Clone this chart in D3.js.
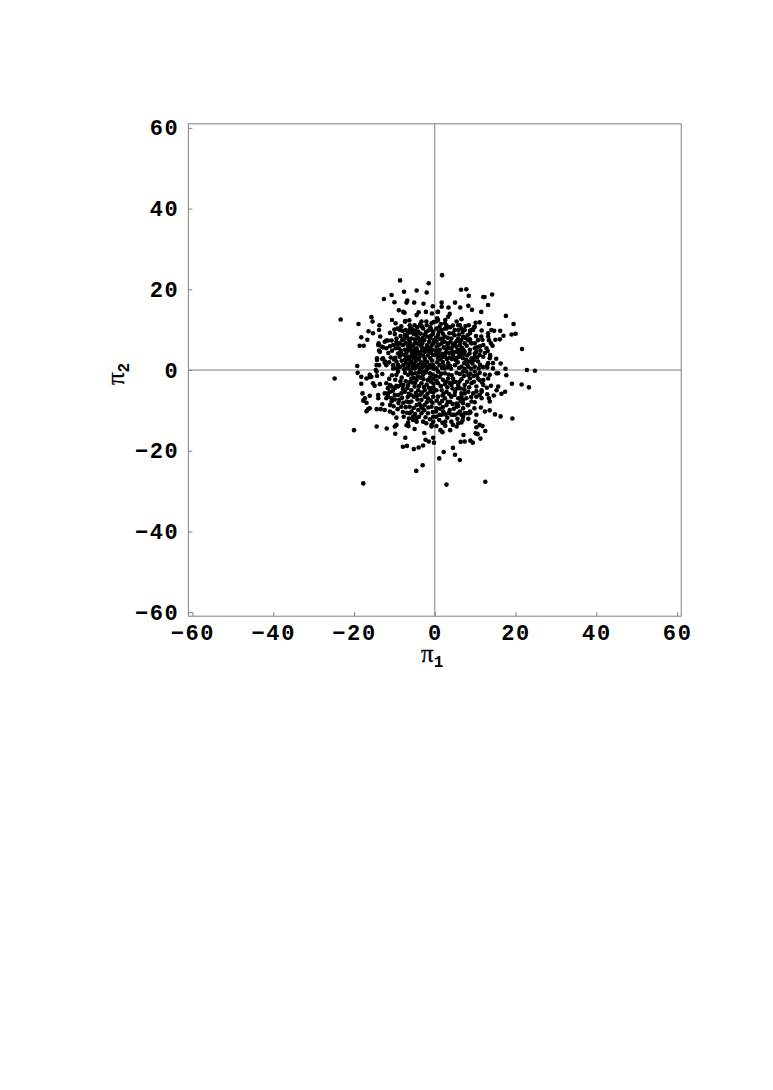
<!DOCTYPE html>
<html>
<head>
<meta charset="utf-8">
<script src="https://cdn.jsdelivr.net/npm/d3@7"></script>
<style>
  html, body { margin: 0; padding: 0; background: #fff; }
  svg { display: block; }
  .tick text { font-family: "Liberation Mono", monospace; font-weight: bold; font-size: 22px; letter-spacing: 1.6px; fill: #000; }
  .label { font-family: "Liberation Serif", serif; font-size: 25px; fill: #000; stroke: #000; stroke-width: 0.3px; }
  .label .sub { font-family: "Liberation Mono", monospace; font-weight: bold; font-size: 16px; stroke: none; }
</style>
</head>
<body>
<svg id="chart"></svg>
<script>
const tickLabels = [-60, -40, -20, 0, 20, 40, 60]

// [pi1, pi2], one list per quadrant
const upperLeft = [
  [-8.6,22.2],[-1.5,21.5],[-7.6,19.4],[-4.5,19.7],[-2.0,19.2],[-10.7,18.6],[-12.6,17.6],[-10.0,16.8],[-7.0,16.7],[-6.8,17.2],
  [-5.1,16.7],[-2.8,16.4],[-0.5,15.8],[-8.9,14.8],[-7.8,14.4],[-7.5,14.2],[-4.0,14.3],[-4.5,13.6],[-2.2,14.4],[-0.7,14.0],
  [-23.3,12.5],[-15.7,13.1],[-15.4,12.0],[-18.9,11.4],[-13.7,11.1],[-10.6,12.4],[-7.3,12.1],[-6.3,12.3],[-9.7,11.6],[-13.8,9.9],
  [-16.4,9.6],[-15.3,9.1],[-13.5,8.3],[-18.2,8.1],[-16.7,7.5],[-18.6,6.0],[-17.6,6.0],[-13.9,6.6],[-11.1,9.2],[-9.2,10.3],
  [-8.0,9.7],[-9.9,8.9],[-12.0,7.3],[-10.7,7.3],[-9.5,7.0],[-8.1,7.4],[-8.0,6.2],[-12.8,5.6],[-12.0,5.4],[-11.1,5.9],
  [-13.8,4.8],[-8.7,4.1],[-14.3,2.9],[-14.3,2.5],[-13.0,2.7],[-12.3,2.1],[-13.8,1.2],[-19.2,1.0],[-14.6,0.0],
  [-8.7,9.9],[-7.4,12.0],[-6.2,11.1],[-6.2,9.9],[-5.0,11.1],[-3.3,12.0],[-2.1,12.0],[-0.8,11.6],[-0.4,9.5],[-2.9,10.3],
  [-4.1,9.5],[-4.5,8.7],[-5.8,7.8],[-2.5,8.7],[-7.4,8.7],[-9.5,7.8],[-11.6,7.3],[-12.4,7.0],[-14.0,6.2],[-13.2,5.8],
  [-13.6,4.5],[-10.3,6.2],[-9.7,5.4],[-8.7,6.6],[-7.8,6.2],[-9.1,4.1],[-8.7,3.3],[-7.4,5.0],[-6.6,5.8],[-5.0,6.6],
  [-3.7,7.4],[-1.2,7.8],[-0.4,6.6],[-3.3,5.8],[-4.5,5.4],[-5.8,4.5],[-6.2,3.3],[-4.1,4.1],[-2.5,4.5],[-1.2,5.4],
  [-0.4,3.7],[-2.5,2.9],[-4.5,2.9],[-5.8,2.1],[-7.4,2.5],[-7.8,1.2],[-9.5,2.1],[-10.3,1.2],[-8.7,0.7],[-10.3,0.4],
  [-12.8,2.9],[-14.4,1.2],[-12.4,1.8],[-12.0,1.2],[-4.1,1.2],[-2.9,0.8],[-1.2,1.2],[-5.0,0.4],[-0.4,1.2],
  [-6.9,8.3],[-5.2,8.9],[-3.5,9.0],[-1.6,9.8],[-0.9,8.5],[-3.1,6.6],[-1.9,6.2],[-4.9,7.6],[-6.2,6.9],[-7.0,4.2],
  [-6.0,5.2],[-3.6,3.5],[-1.7,3.6],[-0.7,2.3],[-3.4,1.9],[-5.1,1.5],[-6.6,1.0],[-7.1,3.2],[-8.1,3.9],[-9.8,3.0],
  [-0.3,0.3],[-2.0,0.2],[-3.6,0.1],[-6.0,0.1],[-7.6,0.2],[-0.6,5.0],[-1.9,2.0],[-4.8,3.6],[-5.4,6.0],[-2.6,7.4],
  [-0.2,7.4],[-6.0,10.6],[-4.3,10.6],[-1.1,10.6],[-3.6,11.3],[-0.3,11.9],[-7.2,9.9],[-8.3,10.8],[-8.5,8.4],[-10.0,10.0],
  [-4.7,2.2],[-5.3,3.0],[-3.9,2.6],[-4.4,4.7],[-5.1,4.3],[-3.2,4.9],[-2.9,3.6],[-6.4,2.6],[-6.8,4.9],[-5.6,3.7],
  [-3.0,1.4],[-2.3,1.2],[-1.1,2.9],[-0.9,4.3],[-1.6,4.6],[-2.1,5.3],[-3.8,6.3],[-4.4,6.6],[-4.1,7.9],[-3.0,7.9],
  [-1.9,8.3],[-5.7,9.3],[-6.5,7.6],[-7.2,6.7],[-7.6,7.7],[-8.9,5.4],[-9.3,6.4],[-10.6,4.8],[-10.9,3.1],[-11.5,4.2],
  [-8.2,2.3],[-9.1,1.3],[-7.1,1.7],[-6.2,1.6],[-5.5,0.9],[-4.5,0.7],[-3.4,0.6],[-2.4,2.3],[-0.9,0.7],[-1.5,0.6],
  [-0.5,8.9],[-0.8,6.0],[-1.4,7.0],[-2.2,9.4],[-3.2,10.8],[-4.9,9.8],[-5.6,10.1],[-6.6,9.2],[-11.3,1.9],[-10.1,2.6],
  [-2.0,11.1],[-0.9,10.0],[-2.8,5.4],[-3.6,4.4],[-5.0,5.0],[-6.2,6.2],[-7.5,3.7],[-8.4,4.8],[-9.4,0.4],[-6.9,0.4]
]

const upperRight = [
  [1.8,23.5],[6.5,19.9],[7.8,20.0],[8.4,18.4],[12.0,18.1],[12.3,18.1],[14.2,18.7],[5.0,16.7],[1.7,16.7],[8.3,15.9],
  [13.2,16.1],[1.7,15.7],[3.4,15.5],[6.3,15.5],[9.2,14.9],[11.5,14.4],[0.8,14.4],[0.7,14.4],[3.7,13.9],[3.3,13.2],
  [17.6,13.4],[2.6,12.4],[0.6,12.8],[0.4,12.0],[6.6,12.6],[5.4,12.0],[10.1,11.7],[11.1,11.8],[13.4,11.4],[19.5,11.4],
  [1.2,10.7],[2.5,10.3],[4.5,11.0],[5.8,11.1],[6.6,10.3],[9.7,10.6],[9.5,9.9],[8.7,9.7],[11.6,9.8],[14.7,9.7],
  [16.2,9.7],[19.0,8.8],[20.0,9.0],[17.0,8.5],[13.2,8.3],[13.4,7.4],[13.9,6.6],[14.3,6.0],[15.0,7.5],[16.1,7.6],
  [10.7,7.4],[11.8,7.5],[8.7,7.6],[8.9,6.8],[9.9,6.6],[11.2,5.9],[21.6,5.2],[10.3,4.5],[12.0,3.3],[9.9,3.3],
  [13.7,3.7],[13.7,3.3],[15.2,2.8],[16.3,1.6],[13.0,1.2],[14.4,0.4],[13.0,0.6],[17.5,0.3],[22.8,0.0],
  [0.8,12.4],[2.5,11.6],[2.9,11.1],[6.2,11.1],[8.7,9.1],[9.1,9.9],[9.9,10.7],[13.2,9.1],[14.0,9.9],[12.0,6.2],
  [8.3,7.4],[9.1,6.6],[9.9,5.4],[12.8,5.4],[7.4,9.9],[5.8,9.9],[4.5,9.1],[2.9,10.3],[1.7,9.9],[0.4,10.3],
  [0.8,8.7],[2.5,8.3],[4.1,7.8],[5.8,7.8],[7.0,8.3],[7.4,6.6],[6.2,6.2],[5.0,6.6],[3.3,6.6],[1.7,6.6],
  [0.4,7.0],[1.2,5.0],[2.9,5.0],[4.1,5.4],[5.8,5.0],[7.4,4.5],[8.7,5.0],[9.9,4.1],[11.1,3.7],[13.6,2.9],
  [14.4,1.7],[13.2,1.7],[10.7,2.1],[9.1,2.9],[7.8,2.5],[6.2,3.3],[4.5,3.7],[2.5,3.3],[0.8,2.9],[1.2,1.2],
  [3.3,1.7],[5.0,1.2],[6.6,0.8],[8.3,0.8],[9.9,0.8],[12.0,0.7],[0.4,0.4],[2.5,0.4],
  [1.9,7.8],[3.6,9.1],[6.7,5.5],[8.0,3.6],[5.2,2.4],[3.6,4.2],[1.9,4.0],[0.5,5.8],[0.2,3.8],[2.0,2.0],
  [4.0,0.3],[7.3,1.7],[9.3,1.6],[10.9,0.4],[11.3,4.8],[6.9,9.4],[4.9,8.6],[3.1,6.0],[7.9,6.0],[6.3,7.0],
  [1.4,2.6],[2.2,1.1],[3.0,2.7],[1.0,3.7],[2.7,4.2],[4.2,2.7],[3.8,1.0],[0.6,1.9],[1.8,0.5],[3.2,0.7],
  [5.7,1.9],[4.8,3.0],[6.0,4.1],[5.2,4.5],[3.4,5.5],[2.2,5.6],[1.0,6.2],[0.3,8.0],[1.3,7.7],[2.4,7.0],
  [3.9,6.9],[4.5,6.1],[5.4,7.2],[6.6,7.5],[7.6,7.9],[8.1,8.6],[6.0,8.8],[3.2,8.0],[2.0,9.0],[1.0,9.5],
  [8.6,4.1],[8.7,2.1],[7.0,3.9],[7.0,2.9],[9.7,2.4],[10.5,3.1],[11.2,1.3],[8.0,1.4],[6.0,0.5],[7.4,0.3],
  [9.0,0.3],[10.5,5.6],[10.2,8.4],[11.5,8.3],[12.4,4.2],[13.1,4.7],[0.3,4.8],[0.9,4.3],[1.9,3.2],[3.6,3.1],
  [4.9,9.9],[3.8,10.6],[1.5,11.4],[7.6,10.9],[8.4,11.1],[5.3,5.8],[4.3,4.6],[6.6,4.6],[5.6,3.1],[7.1,5.0]
]

const lowerLeft = [
  [-19.1,-0.7],[-13.0,-1.0],[-24.8,-2.1],[-18.2,-1.7],[-16.1,-1.8],[-18.2,-3.4],[-15.7,-1.7],[-16.1,-1.2],[-14.4,-0.4],[-14.3,-1.5],
  [-16.9,-2.1],[-15.3,-3.3],[-14.9,-3.9],[-13.6,-3.5],[-17.9,-5.8],[-16.1,-6.4],[-17.3,-7.0],[-17.7,-7.6],[-16.9,-8.1],[-14.0,-6.2],
  [-14.0,-7.0],[-16.5,-9.7],[-16.1,-9.5],[-16.9,-10.2],[-14.4,-9.7],[-13.4,-9.7],[-12.4,-9.9],[-11.1,-10.3],[-10.3,-10.7],[-9.2,-9.7],
  [-8.3,-9.1],[-13.0,-8.5],[-11.1,-8.7],[-12.0,-7.0],[-10.7,-7.0],[-9.9,-7.3],[-11.6,-5.8],[-12.0,-3.3],[-10.7,-4.1],[-9.9,-4.5],
  [-9.1,-6.2],[-11.1,-5.4],[-9.5,-3.9],[-8.4,-3.7],[-9.5,-11.8],[-14.4,-14.0],[-20.0,-14.9],[-11.9,-14.5],[-9.9,-14.0],[-9.5,-13.6],
  [-9.8,-15.8],[-7.0,-13.7],[-6.5,-13.9],[-5.0,-14.6],[-6.2,-10.7],[-6.4,-12.0],[-6.6,-13.0],[-5.4,-12.4],[-4.5,-12.8],[-7.3,-16.8],
  [-2.6,-15.6],[-0.4,-16.8],[-2.3,-17.3],[-1.5,-17.7],[-0.2,-18.0],[-7.9,-19.0],[-6.9,-18.8],[-5.2,-19.6],[-4.0,-19.2],[-2.9,-18.7],
  [-3.0,-23.6],[-4.6,-25.0],[-17.7,-28.1],[-2.9,-12.8],[-2.1,-13.2],[-0.8,-14.0],[-0.4,-12.8],[-0.8,-13.6],
  [-9.1,-0.4],[-9.5,-1.2],[-7.4,-0.7],[-6.6,-1.2],[-5.8,-2.1],[-4.5,-2.5],[-2.9,-1.2],[-1.2,-0.8],[-0.4,-2.1],[-1.7,-2.5],
  [-3.3,-3.3],[-5.0,-4.1],[-4.1,-5.0],[-2.5,-5.0],[-0.8,-4.5],[-5.8,-5.0],[-6.6,-3.7],[-7.8,-3.7],[-11.1,-3.7],[-11.6,-4.5],
  [-9.1,-4.1],[-12.4,-5.8],[-11.6,-6.6],[-9.9,-6.2],[-10.7,-7.8],[-7.0,-7.8],[-5.8,-7.8],[-4.5,-8.7],[-6.2,-9.1],[-3.3,-7.4],
  [-1.7,-7.0],[-0.4,-6.6],[-2.5,-8.7],[-0.8,-9.1],[-4.1,-9.9],[-5.8,-10.3],[-3.3,-10.7],[-1.7,-10.7],[-0.4,-11.6],[-5.4,-11.6],
  [-8.2,-1.9],[-7.2,-2.8],[-3.5,-1.9],[-2.0,-3.6],[-3.6,-6.1],[-5.2,-6.6],[-7.4,-5.4],[-8.1,-6.9],[-0.6,-8.1],[-1.8,-5.9],
  [-6.9,-10.6],[-3.9,-11.6],[-2.3,-11.7],[-1.2,-12.2],[-7.8,-8.1],[-9.0,-8.2],[-10.2,-9.0],[-4.8,-0.8],[-0.3,-3.4],[-3.1,-9.5],[-5.5,-3.1],
  [-3.9,-0.6],[-2.2,-0.6],[-0.6,-1.1],[-1.2,-1.9],[-2.8,-2.3],[-4.2,-1.6],[-5.6,-1.0],[-6.1,-2.9],[-4.9,-3.2],[-3.9,-4.0],
  [-2.7,-4.2],[-1.5,-4.4],[-0.4,-5.5],[-1.1,-5.3],[-3.2,-5.6],[-4.7,-5.7],[-6.4,-5.9],[-6.7,-6.7],[-4.3,-7.3],[-2.5,-6.6],
  [-1.0,-7.6],[-2.0,-8.0],[-3.8,-8.4],[-5.2,-9.4],[-7.2,-9.2],[-6.4,-8.0],[-8.8,-7.4],[-8.3,-5.8],[-7.9,-4.7],[-10.4,-5.2],
  [-8.5,-2.8],[-9.8,-2.4],[-10.6,-1.3],[-11.3,-2.2],[-6.0,-0.4],[-1.6,-9.3],[-3.4,-9.0],[-0.5,-10.4],[-2.6,-10.0],[-4.9,-10.9],
  [-4.5,-11.9],[-7.9,-10.4],[-7.7,-11.6],[-0.9,-2.9],[-3.0,-0.4],[-5.2,-2.0],[-6.8,-4.5],[-4.4,-6.4],[-5.9,-6.2],[-0.3,-4.5]
]

const lowerRight = [
  [24.8,-0.2],[17.7,-1.3],[15.3,-0.8],[15.7,-0.8],[13.6,-1.2],[13.2,-2.1],[19.1,-3.4],[21.5,-3.6],[23.3,-4.3],[13.9,-3.9],
  [12.0,-3.7],[11.1,-2.5],[15.7,-4.1],[15.3,-5.0],[17.4,-5.4],[16.5,-5.9],[14.6,-6.3],[13.0,-6.0],[13.4,-7.0],[13.6,-7.8],
  [11.6,-5.4],[11.1,-6.2],[10.3,-6.6],[11.6,-7.0],[9.1,-7.8],[9.9,-8.0],[8.1,-8.7],[11.4,-9.3],[12.4,-10.3],[13.6,-10.0],
  [14.9,-11.0],[16.3,-11.5],[19.2,-12.0],[8.8,-10.5],[8.5,-10.7],[10.3,-11.1],[10.1,-12.8],[11.1,-13.6],[11.8,-13.9],[10.3,-14.2],
  [12.5,-15.1],[10.1,-15.7],[10.6,-15.9],[11.3,-17.0],[7.1,-16.1],[6.4,-17.8],[7.4,-17.7],[8.8,-17.5],[9.4,-18.0],[4.5,-19.3],
  [2.2,-20.3],[5.0,-21.0],[1.1,-21.9],[6.2,-22.3],[2.9,-28.4],[12.5,-27.7],[1.4,-14.9],[1.9,-15.4],[2.6,-12.8],[2.6,-13.8],
  [3.8,-14.9],[4.1,-12.8],[4.5,-13.6],[5.4,-14.0],[5.8,-13.2],[6.6,-13.0],[4.5,-11.1],[5.8,-10.7],[7.0,-11.6],[7.4,-10.7],
  [2.6,-11.0],[1.2,-11.1],[5.4,-9.1],[5.6,-8.5],[7.0,-7.4],[6.6,-6.6],[7.4,-5.8],[0.4,-11.6],
  [0.8,-0.4],[2.5,-0.8],[5.4,-0.7],[6.2,-1.0],[7.8,-0.4],[9.9,-0.4],[11.1,-0.7],[1.2,-1.7],[3.3,-2.1],[4.5,-2.1],
  [6.6,-2.3],[8.7,-2.1],[10.7,-2.1],[12.0,-2.5],[0.8,-3.3],[2.5,-3.5],[4.1,-3.7],[5.8,-3.7],[7.4,-3.7],[9.1,-3.3],
  [10.3,-4.1],[0.4,-5.0],[1.7,-5.0],[2.9,-5.4],[5.0,-5.4],[6.6,-5.8],[8.3,-5.4],[9.5,-5.8],[11.6,-5.0],[0.8,-6.6],
  [2.5,-7.0],[4.1,-6.6],[5.8,-7.0],[7.8,-7.0],[5.4,-8.3],[5.8,-8.9],[1.2,-8.3],[2.9,-8.7],[0.4,-9.5],[3.7,-9.9],
  [2.1,-10.3],[6.2,-10.3],[8.3,-8.7],[7.8,-10.7],[1.7,-11.1],[4.1,-11.1],[5.0,-11.1],[6.6,-11.1],[8.7,-10.3],
  [3.8,-7.9],[1.9,-6.3],[7.0,-8.2],[3.4,-1.1],[6.4,-4.6],[4.4,-4.6],
  [0.3,-1.5],[2.0,-2.4],[1.5,-4.0],[3.1,-4.3],[2.2,-5.9],[3.6,-6.0],[4.9,-6.2],[5.5,-4.6],[4.6,-3.0],[6.1,-2.9],
  [7.2,-1.5],[8.3,-1.3],[9.6,-1.5],[8.0,-2.9],[9.7,-2.9],[8.5,-4.3],[7.3,-4.8],[9.0,-6.7],[10.3,-5.3],[3.2,-7.9],
  [1.8,-7.7],[0.5,-7.6],[2.0,-9.2],[4.4,-8.4],[6.4,-7.7],[4.7,-9.6],[7.0,-9.5],[3.1,-11.8],[5.6,-12.1],[8.3,-12.1],
  [0.3,-10.3],[1.3,-9.6],[1.1,-12.4],[1.9,-13.1],[0.4,-13.9],[3.5,-10.6],[6.9,-12.4],[3.7,-3.2],[2.8,-2.9],[0.4,-2.6],
  [1.6,-0.9],[4.2,-1.3],[5.1,-2.9],[7.0,-0.4],[8.8,-0.9],[10.4,-1.3],[12.4,-1.1],[11.7,-3.1],[12.9,-4.4],[9.8,-9.5]
]

const width = 773
const height = 1090
const points = [...upperLeft, ...upperRight, ...lowerLeft, ...lowerRight]

const x = d3.scaleLinear().domain([-61, 61]).range([188.4, 681.2])
const y = d3.scaleLinear().domain([-61, 61]).range([616.2, 123.8])

const chart = d3.select('#chart')
  .attr('width', width)
  .attr('height', height)

// frame
chart.append('rect')
  .attr('x', x(-61))
  .attr('y', y(61))
  .attr('width', x(61) - x(-61))
  .attr('height', y(-61) - y(61))
  .attr('fill', 'none')
  .attr('stroke', '#808080')

// lines through the origin
chart.append('line')
  .attr('x1', x(-61)).attr('x2', x(61))
  .attr('y1', y(0)).attr('y2', y(0))
  .attr('stroke', '#808080')
chart.append('line')
  .attr('x1', x(0)).attr('x2', x(0))
  .attr('y1', y(-61)).attr('y2', y(61))
  .attr('stroke', '#808080')

// axes, ticks point into the frame
const xAxis = chart.append('g')
  .attr('transform', 'translate(0,' + y(-61) + ')')
  .call(d3.axisBottom(x).tickValues(tickLabels).tickSizeInner(-4).tickSizeOuter(0).tickPadding(8))
const yAxis = chart.append('g')
  .attr('transform', 'translate(' + x(-61) + ',0)')
  .call(d3.axisLeft(y).tickValues(tickLabels).tickSizeInner(-4).tickSizeOuter(0).tickPadding(9))
chart.selectAll('.domain').remove()
chart.selectAll('.tick line').attr('stroke', '#808080')
xAxis.selectAll('text').attr('font-family', null)
yAxis.selectAll('text').attr('font-family', null)

// points
chart.append('g')
  .selectAll('circle')
  .data(points)
  .enter()
  .append('circle')
  .attr('cx', d => x(d[0]))
  .attr('cy', d => y(d[1]))
  .attr('r', 2.3)
  .attr('fill', '#000')

// axis labels
const xLabel = chart.append('text')
  .attr('class', 'label')
  .attr('x', 421)
  .attr('y', 662)
xLabel.append('tspan').text('π')
xLabel.append('tspan').attr('class', 'sub').attr('dy', 5).text('1')

const yLabel = chart.append('text')
  .attr('class', 'label')
  .attr('transform', 'translate(124,385) rotate(-90)')
yLabel.append('tspan').text('π')
yLabel.append('tspan').attr('class', 'sub').attr('dy', 5).text('2')
</script>
</body>
</html>
